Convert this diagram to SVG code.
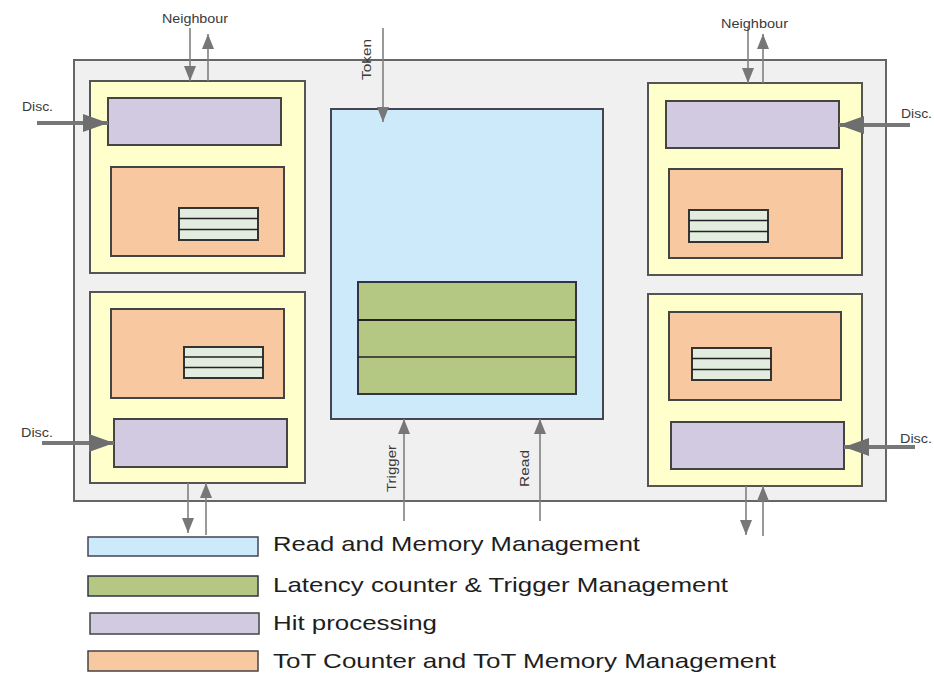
<svg xmlns="http://www.w3.org/2000/svg" width="934" height="673" viewBox="0 0 934 673">
  <defs>
    <style>
      .chip { fill: #f0f0f0; stroke: #666; stroke-width: 2; }
      .pixel { fill: #ffffcc; stroke: #555; stroke-width: 2; }
      .hit { fill: #d1cae0; stroke: #444; stroke-width: 2; }
      .tot { fill: #f8c8a0; stroke: #444; stroke-width: 2; }
      .mem { fill: #e2ecdf; stroke: #333; stroke-width: 2; }
      .rmm { fill: #cdeafa; stroke: #445; stroke-width: 2; }
      .lat { fill: #b4c783; stroke: #334; stroke-width: 2; }
      .sep { stroke: #222; stroke-width: 1.5; fill: none; }
      .sig { stroke: #808080; stroke-width: 1.6; fill: none; marker-end: url(#head); }
      .disc { stroke: #777; stroke-width: 4; fill: none; marker-end: url(#bighead); }
      .lbl { font-family: "Liberation Sans", Arial, sans-serif; font-size: 13px; fill: #3a3a3a; }
      .leg { font-family: "Liberation Sans", Arial, sans-serif; font-size: 21px; fill: #1e1e1e; }
    </style>
    <marker id="head" markerUnits="userSpaceOnUse" markerWidth="16" markerHeight="14" viewBox="0 0 16 14" refX="15" refY="7" orient="auto">
      <path d="M0,1 L15,7 L0,13 Z" fill="#777"/>
    </marker>
    <marker id="bighead" markerUnits="userSpaceOnUse" markerWidth="26" markerHeight="20" viewBox="0 0 26 20" refX="25" refY="10" orient="auto">
      <path d="M0,1 L25,10 L0,19 Z" fill="#6e6e6e"/>
    </marker>
  </defs>

  <rect id="chip" class="chip" x="74" y="60" width="812" height="441"/>

  <!-- top-left pixel region -->
  <g id="pixel-tl">
    <rect class="pixel" x="90" y="81" width="215" height="192"/>
    <rect class="hit" x="108" y="98" width="173" height="47"/>
    <rect class="tot" x="111" y="167" width="173" height="89"/>
    <rect class="mem" x="179" y="208" width="79" height="32"/>
    <path class="sep" d="M179,218.5 H258 M179,229.5 H258"/>
  </g>

  <!-- top-right pixel region -->
  <g id="pixel-tr">
    <rect class="pixel" x="648" y="83" width="214" height="192"/>
    <rect class="hit" x="666" y="101" width="173" height="47"/>
    <rect class="tot" x="669" y="169" width="173" height="89"/>
    <rect class="mem" x="689" y="210" width="79" height="32"/>
    <path class="sep" d="M689,220.5 H768 M689,231.5 H768"/>
  </g>

  <!-- bottom-left pixel region -->
  <g id="pixel-bl">
    <rect class="pixel" x="90" y="292" width="215" height="191"/>
    <rect class="tot" x="111" y="309" width="173" height="89"/>
    <rect class="mem" x="184" y="347" width="79" height="31"/>
    <path class="sep" d="M184,357 H263 M184,367.5 H263"/>
    <rect class="hit" x="114" y="419" width="173" height="48"/>
  </g>

  <!-- bottom-right pixel region -->
  <g id="pixel-br">
    <rect class="pixel" x="648" y="294" width="214" height="192"/>
    <rect class="tot" x="669" y="312" width="172" height="88"/>
    <rect class="mem" x="692" y="348" width="79" height="32"/>
    <path class="sep" d="M692,358.5 H771 M692,369.5 H771"/>
    <rect class="hit" x="671" y="422" width="173" height="47"/>
  </g>

  <!-- central read / memory management with latency counters -->
  <g id="read-memory">
    <rect class="rmm" x="331" y="109" width="272" height="310"/>
    <rect class="lat" x="358" y="282" width="218" height="112"/>
    <path class="sep" d="M358,320 H576" style="stroke-width:2.2"/>
    <path class="sep" d="M358,357 H576"/>
  </g>

  <g id="connectors">
    <!-- neighbour links -->
    <line class="sig" x1="190" y1="28" x2="190" y2="81"/>
    <line class="sig" x1="208" y1="81" x2="208" y2="34"/>
    <line class="sig" x1="748" y1="28" x2="748" y2="83"/>
    <line class="sig" x1="763" y1="83" x2="763" y2="34"/>
    <line class="sig" x1="188" y1="483" x2="188" y2="533"/>
    <line class="sig" x1="206" y1="535" x2="206" y2="483"/>
    <line class="sig" x1="746" y1="486" x2="746" y2="535"/>
    <line class="sig" x1="763" y1="536" x2="763" y2="486"/>
    <!-- token, trigger, read -->
    <line class="sig" x1="383" y1="28" x2="383" y2="122"/>
    <line class="sig" x1="404" y1="521" x2="404" y2="419"/>
    <line class="sig" x1="540" y1="521" x2="540" y2="419"/>
    <!-- discriminator inputs -->
    <line class="disc" x1="37" y1="123" x2="108" y2="123"/>
    <line class="disc" x1="42" y1="443" x2="114" y2="443"/>
    <line class="disc" x1="910" y1="125" x2="839" y2="125"/>
    <line class="disc" x1="915" y1="447" x2="844" y2="447"/>
  </g>

  <g id="labels">
    <text class="lbl" x="162" y="23" textLength="66" lengthAdjust="spacingAndGlyphs">Neighbour</text>
    <text class="lbl" x="721" y="28" textLength="67" lengthAdjust="spacingAndGlyphs">Neighbour</text>
    <text class="lbl" x="22" y="111" textLength="31" lengthAdjust="spacingAndGlyphs">Disc.</text>
    <text class="lbl" x="21" y="437" textLength="32" lengthAdjust="spacingAndGlyphs">Disc.</text>
    <text class="lbl" x="901" y="118" textLength="31" lengthAdjust="spacingAndGlyphs">Disc.</text>
    <text class="lbl" x="900" y="443" textLength="32" lengthAdjust="spacingAndGlyphs">Disc.</text>
    <text class="lbl" transform="translate(371,80) rotate(-90)" textLength="41" lengthAdjust="spacingAndGlyphs">Token</text>
    <text class="lbl" transform="translate(396,492) rotate(-90)" textLength="47" lengthAdjust="spacingAndGlyphs">Trigger</text>
    <text class="lbl" transform="translate(529,487) rotate(-90)" textLength="37" lengthAdjust="spacingAndGlyphs">Read</text>
  </g>

  <g id="legend">
    <rect class="rmm" x="88" y="537" width="170" height="19" style="stroke-width:1.5"/>
    <text class="leg" x="273" y="551" textLength="367" lengthAdjust="spacingAndGlyphs">Read and Memory Management</text>
    <rect class="lat" x="88" y="576" width="170" height="20" style="stroke-width:1.5"/>
    <text class="leg" x="273" y="592" textLength="455" lengthAdjust="spacingAndGlyphs">Latency counter &amp; Trigger Management</text>
    <rect class="hit" x="90" y="613" width="169" height="21" style="stroke-width:1.5"/>
    <text class="leg" x="273" y="630" textLength="164" lengthAdjust="spacingAndGlyphs">Hit processing</text>
    <rect class="tot" x="88" y="651" width="170" height="20" style="stroke-width:1.5"/>
    <text class="leg" x="273" y="668" textLength="503" lengthAdjust="spacingAndGlyphs">ToT Counter and ToT Memory Management</text>
  </g>
</svg>
